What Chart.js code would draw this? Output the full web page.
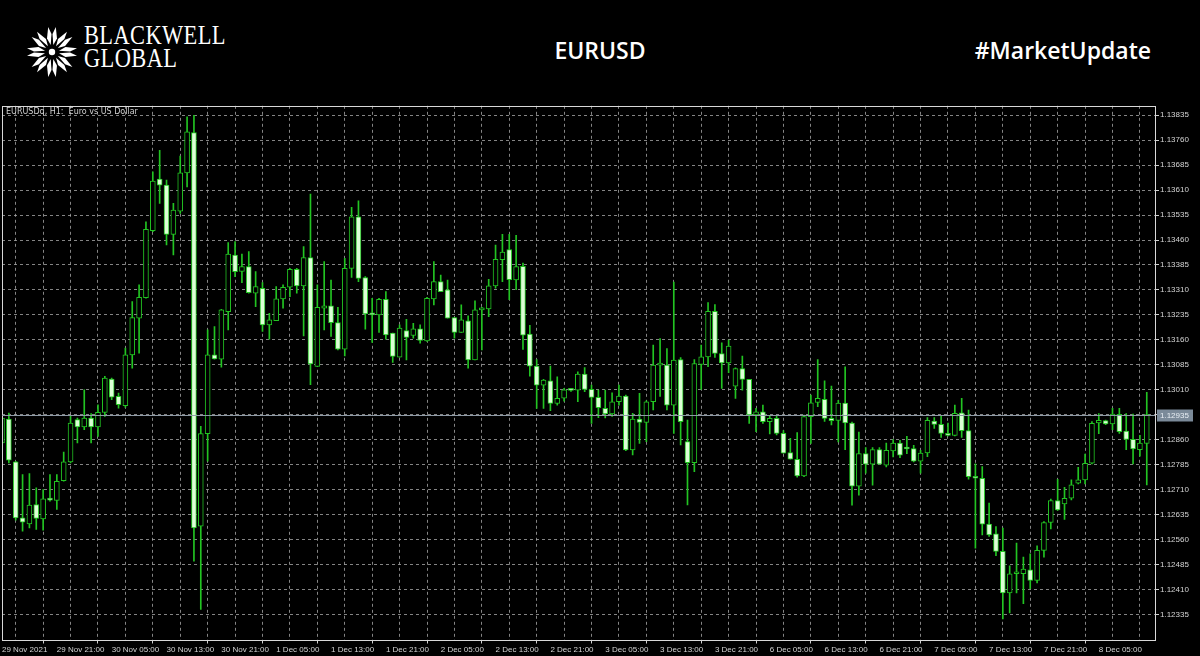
<!DOCTYPE html>
<html>
<head>
<meta charset="utf-8">
<script src="https://cdn.jsdelivr.net/npm/chart.js@4.4.0/dist/chart.umd.min.js"></script>
<style>
  html,body{margin:0;padding:0;background:#000;}
  body{width:1200px;height:656px;position:relative;overflow:hidden;font-family:"Open Sans",sans-serif;}
  .logo{position:absolute;left:25px;top:25px;}
  .brand{position:absolute;left:84px;top:24px;color:#fff;font-family:"Liberation Serif","DejaVu Serif",serif;
    font-size:27px;line-height:23px;transform:scaleX(.83);transform-origin:left top;letter-spacing:.5px;}
  .pair{position:absolute;left:0;width:1200px;top:34px;text-align:center;color:#fff;font-size:23px;font-weight:600;}
  .tag{position:absolute;right:49px;top:34px;color:#fff;font-size:23px;font-weight:600;}
  #wrap{position:absolute;left:0;top:100px;width:1200px;height:556px;}
</style>
</head>
<body>
<svg class="logo" width="54" height="54" viewBox="-27 -27 54 54">
  <g fill="#fff" id="petals"></g>
  <circle cx="0" cy="0" r="3.2" fill="#fff"/>
</svg>
<div class="brand">BLACKWELL<br>GLOBAL</div>
<div class="pair">EURUSD</div>
<div class="tag">#MarketUpdate</div>
<div id="wrap"><canvas id="chart"></canvas></div>

<script>
// ===== DATA (EURUSD H1, 29 Nov 13:00 -> 8 Dec 12:00) =====
const days = [["29 Nov",13,23],["30 Nov",0,23],["1 Dec",0,23],["2 Dec",0,23],["3 Dec",0,23],["6 Dec",0,23],["7 Dec",0,23],["8 Dec",0,12]];
const xTickLabels = ["29 Nov 2021","29 Nov 21:00","30 Nov 05:00","30 Nov 13:00","30 Nov 21:00","1 Dec 05:00","1 Dec 13:00","1 Dec 21:00",
  "2 Dec 05:00","2 Dec 13:00","2 Dec 21:00","3 Dec 05:00","3 Dec 13:00","3 Dec 21:00","6 Dec 05:00","6 Dec 13:00","6 Dec 21:00",
  "7 Dec 05:00","7 Dec 13:00","7 Dec 21:00","8 Dec 05:00"];
const yTicks = [1.12335,1.12410,1.12485,1.12560,1.12635,1.12710,1.12785,1.12860,1.12935,1.13010,1.13085,
  1.13160,1.13235,1.13310,1.13385,1.13460,1.13535,1.13610,1.13685,1.13760,1.13835];

const opens = [
  1.12850,1.12922,1.12793,1.12625,1.12607,1.12665,1.12622,1.12682,1.12677,1.12737,1.12793,1.12920,1.12898,1.12925,1.12898,1.12942,
  1.13042,1.12990,1.12962,1.13115,1.13225,1.13287,1.13488,1.13643,1.13625,1.13477,1.13547,1.13662,1.13783,1.12600,1.12878,1.13115,
  1.13102,1.13245,1.13415,1.13366,1.13380,1.13300,1.13315,1.13205,1.13218,1.13283,1.13318,1.13372,1.13322,1.13407,1.13080,1.13255,
  1.13262,1.13212,1.13132,1.13375,1.13530,1.13347,1.13237,1.13235,1.13282,1.13180,1.13108,1.13188,1.13173,1.13193,1.13157,1.13283,
  1.13335,1.13310,1.13227,1.13182,1.13217,1.13100,1.13250,1.13253,1.13322,1.13401,1.13431,1.13340,1.13381,1.13177,1.13081,1.13024,
  1.13037,1.12969,1.12985,1.13010,1.13009,1.13057,1.13011,1.12987,1.12954,1.12937,1.12974,1.12991,1.12829,1.12922,1.12912,1.12974,
  1.13084,1.13084,1.12964,1.13101,1.12854,1.12791,1.13086,1.13109,1.13246,1.13119,1.13091,1.13021,1.13074,1.13041,1.12934,1.12944,
  1.12914,1.12924,1.12879,1.12821,1.12801,1.12751,1.12929,1.12972,1.12981,1.12924,1.12918,1.12970,1.12910,1.12720,1.12818,1.12786,
  1.12830,1.12783,1.12826,1.12850,1.12836,1.12833,1.12795,1.12820,1.12916,1.12906,1.12879,1.12873,1.12941,1.12887,1.12749,1.12744,
  1.12606,1.12577,1.12524,1.12399,1.12457,1.12457,1.12469,1.12437,1.12527,1.12611,1.12677,1.12667,1.12684,1.12729,1.12739,1.12789,
  1.12910,1.12917,1.12907,1.12936,1.12886,1.12861,1.12830,1.12849];
const highs = [
  1.12935,1.12940,1.12795,1.12755,1.12758,1.12715,1.12710,1.12755,1.12755,1.12823,1.12930,1.12925,1.13010,1.12938,1.12965,1.13050,
  1.13045,1.13000,1.13135,1.13275,1.13325,1.13515,1.13665,1.13730,1.13640,1.13570,1.13712,1.13830,1.13835,1.12900,1.13190,1.13200,
  1.13252,1.13452,1.13455,1.13418,1.13425,1.13365,1.13332,1.13240,1.13320,1.13325,1.13375,1.13375,1.13440,1.13598,1.13325,1.13395,
  1.13340,1.13258,1.13405,1.13558,1.13578,1.13350,1.13285,1.13285,1.13305,1.13180,1.13205,1.13222,1.13210,1.13205,1.13288,1.13395,
  1.13355,1.13340,1.13227,1.13265,1.13232,1.13277,1.13258,1.13342,1.13445,1.13477,1.13477,1.13474,1.13391,1.13204,1.13101,1.13041,
  1.13081,1.13049,1.13014,1.13014,1.13064,1.13077,1.13024,1.13009,1.13009,1.13001,1.13024,1.12994,1.12939,1.12999,1.12977,1.13144,
  1.13164,1.13134,1.13334,1.13107,1.12919,1.13101,1.13144,1.13272,1.13266,1.13151,1.13159,1.13076,1.13111,1.13041,1.12954,1.12964,
  1.12932,1.12932,1.12887,1.12864,1.12881,1.12934,1.12994,1.13101,1.13037,1.13021,1.12978,1.13079,1.12913,1.12883,1.12836,1.12836,
  1.12836,1.12850,1.12860,1.12858,1.12870,1.12843,1.12828,1.12926,1.12926,1.12930,1.12910,1.12964,1.12984,1.12949,1.12787,1.12779,
  1.12669,1.12599,1.12594,1.12481,1.12549,1.12507,1.12517,1.12541,1.12614,1.12681,1.12741,1.12717,1.12739,1.12777,1.12817,1.12914,
  1.12938,1.12919,1.12954,1.12954,1.12938,1.12937,1.12873,1.13002];
const lows = [
  1.12840,1.12790,1.12618,1.12585,1.12595,1.12590,1.12588,1.12675,1.12650,1.12735,1.12790,1.12850,1.12890,1.12850,1.12870,1.12930,
  1.12980,1.12955,1.12957,1.13075,1.13120,1.13285,1.13485,1.13570,1.13445,1.13415,1.13540,1.13620,1.12495,1.12350,1.12795,1.13102,
  1.13078,1.13190,1.13350,1.13332,1.13300,1.13260,1.13185,1.13162,1.13218,1.13255,1.13290,1.13300,1.13172,1.13025,1.13080,1.13190,
  1.13170,1.13130,1.13112,1.13348,1.13335,1.13192,1.13152,1.13182,1.13162,1.13092,1.13108,1.13100,1.13165,1.13150,1.13155,1.13265,
  1.13305,1.13225,1.13165,1.13182,1.13075,1.13100,1.13130,1.13230,1.13315,1.13335,1.13281,1.13311,1.13131,1.13051,1.12954,1.12954,
  1.12947,1.12964,1.12976,1.13005,1.12974,1.13004,1.12909,1.12926,1.12925,1.12930,1.12964,1.12827,1.12814,1.12849,1.12854,1.12949,
  1.12990,1.12949,1.12879,1.12844,1.12664,1.12764,1.13011,1.13079,1.13107,1.13014,1.13061,1.12984,1.13009,1.12909,1.12884,1.12909,
  1.12877,1.12874,1.12819,1.12801,1.12747,1.12749,1.12849,1.12959,1.12915,1.12904,1.12853,1.12830,1.12663,1.12693,1.12759,1.12723,
  1.12786,1.12778,1.12808,1.12806,1.12818,1.12793,1.12759,1.12809,1.12894,1.12867,1.12871,1.12871,1.12867,1.12741,1.12534,1.12574,
  1.12569,1.12511,1.12321,1.12339,1.12399,1.12367,1.12412,1.12429,1.12507,1.12592,1.12647,1.12620,1.12679,1.12727,1.12727,1.12787,
  1.12878,1.12905,1.12890,1.12879,1.12830,1.12787,1.12810,1.12724];
const closes = [
  1.12925,1.12798,1.12625,1.12612,1.12663,1.12623,1.12682,1.12678,1.12735,1.12793,1.12910,1.12898,1.12925,1.12898,1.12942,1.13045,
  1.12988,1.12965,1.13115,1.13227,1.13288,1.13492,1.13637,1.13625,1.13477,1.13550,1.13662,1.13785,1.12595,1.12878,1.13115,1.13103,
  1.13250,1.13418,1.13365,1.13380,1.13302,1.13320,1.13205,1.13220,1.13283,1.13318,1.13372,1.13322,1.13407,1.13088,1.13258,1.13262,
  1.13212,1.13132,1.13375,1.13530,1.13345,1.13238,1.13235,1.13282,1.13175,1.13110,1.13195,1.13167,1.13193,1.13158,1.13285,1.13335,
  1.13305,1.13225,1.13182,1.13220,1.13100,1.13250,1.13255,1.13322,1.13402,1.13424,1.13341,1.13380,1.13174,1.13081,1.13024,1.13039,
  1.12969,1.12984,1.13010,1.13008,1.13057,1.13011,1.12987,1.12956,1.12937,1.12974,1.12991,1.12829,1.12922,1.12912,1.12974,1.13084,
  1.13086,1.12964,1.13099,1.12914,1.12791,1.13089,1.13109,1.13246,1.13119,1.13091,1.13141,1.13074,1.13041,1.12934,1.12944,1.12914,
  1.12924,1.12879,1.12819,1.12801,1.12751,1.12929,1.12971,1.12984,1.12924,1.12917,1.12970,1.12910,1.12720,1.12818,1.12786,1.12830,
  1.12786,1.12828,1.12850,1.12813,1.12832,1.12795,1.12820,1.12918,1.12906,1.12879,1.12873,1.12939,1.12887,1.12749,1.12744,1.12606,
  1.12574,1.12524,1.12399,1.12457,1.12459,1.12471,1.12437,1.12527,1.12611,1.12677,1.12649,1.12684,1.12724,1.12739,1.12789,1.12909,
  1.12918,1.12907,1.12937,1.12884,1.12861,1.12832,1.12850,1.12935];

const CHART_TITLE = "EURUSDq, H1:  Euro vs US Dollar";
const GREEN = "#22c422", BEAR_FILL = "#dcffd6", GRID = "rgba(165,165,165,0.8)";
const AXIS_FONT = {family:"Liberation Sans", size:8};

// ===== LOGO petals =====
(function(){
  const g = document.getElementById("petals");
  for (let k = 0; k < 8; k++){
    g.innerHTML += `<g transform="rotate(${k*45})">
      <path d="M -1.3 -7 L -5 -13.5 L -3.8 -25 L -0.5 -18 Z"/>
      <path d="M 1.3 -7 L 5 -13.5 L 3.8 -25 L 0.5 -18 Z"/></g>`;
  }
})();

// ===== CATEGORIES =====
const barTimes = [];
days.forEach(([d,h0,h1]) => { for (let h=h0; h<=h1; h++) barTimes.push(d+" "+String(h).padStart(2,"0")+":00"); });
const N = barTimes.length;
const labelAt = {};
xTickLabels.forEach((t,i) => labelAt[i*8] = t);

const wicks = lows.map((l,i) => ({x:i, y:[l, highs[i]]}));
const bodies = opens.map((o,i) => ({x:i, y:[Math.min(o,closes[i]), Math.max(o,closes[i])]}));
const bodyFill = opens.map((o,i) => closes[i] < o ? BEAR_FILL : "#000");

// ===== PLUGINS: frame, title, bid line =====
const mtPlugin = {
  id:"mt",
  afterDraw(chart){
    const {ctx, chartArea:a, scales:{y}} = chart;
    ctx.save();
    ctx.strokeStyle = "#d8d8d8"; ctx.lineWidth = 1;
    ctx.strokeRect(Math.round(a.left)+0.5, Math.round(a.top)+0.5, Math.round(a.right-a.left), Math.round(a.bottom-a.top));
    // bid line
    const last = closes[closes.length-1];
    const py = Math.round(y.getPixelForValue(last)) + 0.5;
    ctx.strokeStyle = "#8e9aa6";
    ctx.beginPath(); ctx.moveTo(a.left, py); ctx.lineTo(a.right, py); ctx.stroke();
    ctx.fillStyle = "#7b8a99";
    ctx.fillRect(a.right+2, py-6, 36, 12);
    ctx.fillStyle = "#e8eef4";
    ctx.font = "8px 'Liberation Sans'";
    ctx.textBaseline = "middle";
    ctx.fillText(last.toFixed(5), a.right+5, py);
    // title
    ctx.fillStyle = "#d0d0d0";
    ctx.font = "8px 'DejaVu Sans'";
    ctx.textBaseline = "top";
    ctx.fillText(CHART_TITLE, a.left+4, a.top+2);
    ctx.restore();
  }
};

// ===== CHART =====
new Chart(document.getElementById("chart"), {
  type:"bar",
  data:{
    datasets:[
      { label:"body", data:bodies, backgroundColor:bodyFill, borderColor:GREEN, borderWidth:1, borderSkipped:false,
        barThickness:5, minBarLength:2, grouped:false, order:0 },
      { label:"wick", data:wicks, backgroundColor:GREEN, borderWidth:0, barThickness:1, grouped:false, order:1 }
    ]
  },
  options:{
    responsive:true, maintainAspectRatio:false, animation:false,
    layout:{ padding:{ top:5.5, left:2, right:0, bottom:0 } },
    plugins:{ legend:{display:false}, tooltip:{enabled:false} },
    scales:{
      x:{
        type:"linear", min:0, max:168.2, offset:false,
        afterBuildTicks: s => { s.ticks = []; for (let i=0; i<=N; i+=4) s.ticks.push({value:i}); },
        afterFit: s => { s.height = 16.5; },
        ticks:{ autoSkip:false, maxRotation:0, minRotation:0, align:"start", padding:1,
          color:"#d4d4d4", font:AXIS_FONT,
          callback: v => labelAt[v] || "" },
        grid:{ color: c => (c.tick && c.tick.value > 0 && c.tick.value < N+0.1) ? GRID : "transparent",
          tickLength:4, tickColor: c => (c.tick && labelAt[c.tick.value]) ? "#d0d0d0" : "transparent", drawOnChartArea:true },
        border:{ display:false, dash:[3,3] }
      },
      y:{
        position:"right", min:1.122593, max:1.138635,
        afterBuildTicks: s => { s.ticks = yTicks.map(v => ({value:v})); },
        afterFit: s => { s.width = 45; },
        ticks:{ color:"#d4d4d4", font:AXIS_FONT, padding:1, callback: v => v.toFixed(5) },
        grid:{ color:GRID, tickLength:4, tickColor:"#d0d0d0" },
        border:{ display:false, dash:[3,3] }
      }
    }
  },
  plugins:[mtPlugin]
});
</script>
</body>
</html>
